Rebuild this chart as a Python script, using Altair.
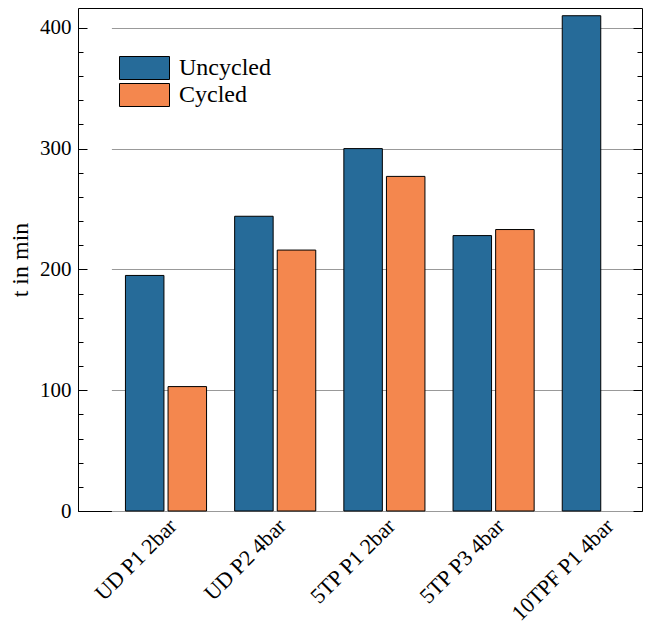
import altair as alt
import pandas as pd

categories = ["UD P1 2bar", "UD P2 4bar", "5TP P1 2bar", "5TP P3 4bar", "10TPF P1 4bar"]
series = ["Uncycled", "Cycled"]
uncycled = [195, 244, 300, 228, 410]
cycled = [103, 216, 277, 233, None]
colors = ["#266b99", "#f4874e"]
major_ticks = [0, 100, 200, 300, 400]
minor_ticks = list(range(0, 420, 20))

rows = []
for c, u, cy in zip(categories, uncycled, cycled):
    rows.append({"cat": c, "series": "Uncycled", "t": u})
    if cy is not None:
        rows.append({"cat": c, "series": "Cycled", "t": cy})
df = pd.DataFrame(rows)

FONT = "Liberation Serif"
ydom = [0, 416.4]

x_enc = alt.X("cat:N", sort=categories, title=None,
              scale=alt.Scale(range=[33.4, 579.4], paddingInner=0, paddingOuter=0),
              axis=alt.Axis(labelAngle=-45, labelAlign="right", labelBaseline="top",
                            labelFont=FONT, labelFontSize=22, labelColor="black",
                            labelPadding=4, ticks=False, domain=False, grid=False))

def yaxis(**kw):
    return alt.Y("t:Q", scale=alt.Scale(domain=ydom, nice=False, zero=True), title=None, axis=alt.Axis(**kw))

bars = alt.Chart(df).mark_bar(stroke="black", strokeWidth=1).encode(
    x=x_enc,
    xOffset=alt.XOffset("series:N", sort=series,
                        scale=alt.Scale(paddingInner=0.0962, paddingOuter=0.3298)),
    y=alt.Y("t:Q", scale=alt.Scale(domain=ydom, nice=False, zero=True), title="t in min",
            axis=alt.Axis(orient="left", values=major_ticks, ticks=False, domain=False,
                          labelFont=FONT, labelFontSize=21, labelColor="black", labelPadding=7,
                          grid=True, gridColor="#999999", gridWidth=1,
                          titleFont=FONT, titleFontSize=24, titleFontWeight="normal",
                          titleColor="black", titlePadding=7)),
    color=alt.Color("series:N", sort=series,
                    scale=alt.Scale(domain=series, range=colors),
                    legend=alt.Legend(title=None, orient="none", legendX=41, legendY=48,
                                      symbolType="M-1,-0.46L1,-0.46L1,0.46L-1,0.46Z",
                                      symbolSize=2500, symbolStrokeColor="black",
                                      symbolStrokeWidth=1, symbolOpacity=1,
                                      clipHeight=24, rowPadding=3, labelOffset=9,
                                      labelFont=FONT, labelFontSize=24, labelColor="black",
                                      padding=0)),
)

def tick_layer(orient, size, values):
    return alt.Chart(df).mark_rule(opacity=0).encode(
        y=yaxis(orient=orient, offset=-size, tickSize=size, values=values, labels=False,
                domain=False, grid=False, ticks=True, tickColor="black", tickWidth=1)
    )

chart = alt.layer(
    bars,
    tick_layer("left", 9, major_ticks),
    tick_layer("left", 5, minor_ticks),
    tick_layer("right", 9, major_ticks),
    tick_layer("right", 5, minor_ticks),
).resolve_axis(y="independent").resolve_scale(y="shared").properties(
    width=564, height=503,
    autosize=alt.AutoSizeParams(type="none"),
    padding={"left": 70, "top": 0, "right": 1, "bottom": 116},
    background="white",
).configure_view(stroke="black", strokeWidth=1)

chart.save("out.html", embed_options={"renderer": "svg", "actions": False})
